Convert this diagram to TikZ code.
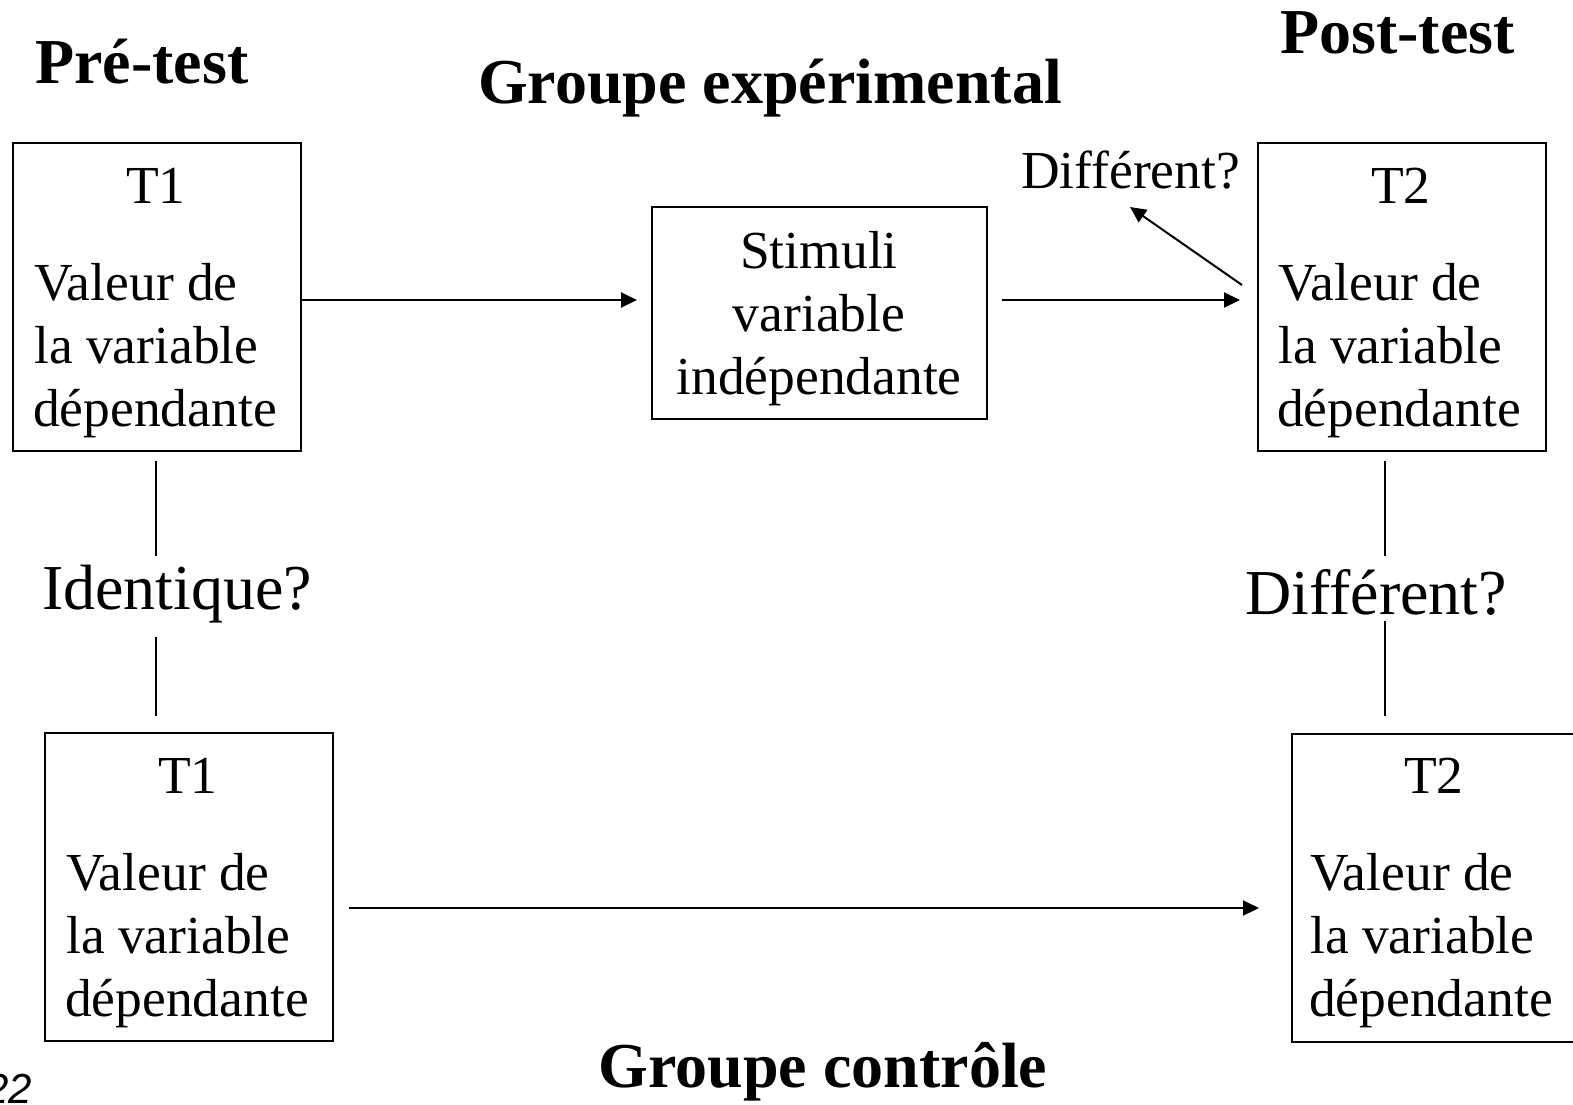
\documentclass[tikz,border=0pt]{standalone}
\usepackage{fontspec}
\setmainfont{Liberation Serif}
\newfontfamily\pagefont{Liberation Sans}
\usetikzlibrary{arrows.meta}
\begin{document}
\begin{tikzpicture}[x=1pt,y=-1pt,
  box/.style={draw,line width=2pt,minimum width=288pt,minimum height=308pt,inner sep=0pt,anchor=north west},
  stimbox/.style={draw,line width=2pt,minimum width=335pt,minimum height=212pt,inner sep=0pt,anchor=north west},
  body/.style={font=\fontsize{53.5}{63}\selectfont,inner sep=0pt},
  big/.style={font=\fontsize{64}{70}\selectfont,inner sep=0pt},
  ttl/.style={font=\fontsize{64}{70}\selectfont\bfseries,inner sep=0pt},
  arr/.style={line width=2pt,-{Triangle[length=16pt,width=15pt]}},
  ln/.style={line width=2.2pt}]
\useasboundingbox (0,0) rectangle (1573,1104);
\clip (0,0) rectangle (1573,1104);
% boxes
\node[box] (A) at (12,142) {};
\node[stimbox] (B) at (651,206) {};
\node[box] (C) at (1257,142) {};
\node[box] (D) at (44,732) {};
\node[box] (E) at (1291,733) {};
% box texts
\node[body,anchor=base] (A1) at (156,203) {T1};
\node[body,anchor=base west] (A2) at (34,300) {Valeur de};
\node[body,anchor=base west] (A3) at (34,363) {la variable};
\node[body,anchor=base west] (A4) at (33,426) {dépendante};
\node[body,anchor=base] (B1) at (819,268) {Stimuli};
\node[body,anchor=base] (B2) at (819,331) {variable};
\node[body,anchor=base] (B3) at (819,394) {indépendante};
\node[body,anchor=base] (C1) at (1401,203) {T2};
\node[body,anchor=base west] (C2) at (1278,300) {Valeur de};
\node[body,anchor=base west] (C3) at (1278,363) {la variable};
\node[body,anchor=base west] (C4) at (1277,426) {dépendante};
\node[body,anchor=base] (D1) at (188,793) {T1};
\node[body,anchor=base west] (D2) at (66,890) {Valeur de};
\node[body,anchor=base west] (D3) at (66,953) {la variable};
\node[body,anchor=base west] (D4) at (65,1016) {dépendante};
\node[body,anchor=base] (E1) at (1434,793) {T2};
\node[body,anchor=base west] (E2) at (1310,890) {Valeur de};
\node[body,anchor=base west] (E3) at (1310,953) {la variable};
\node[body,anchor=base west] (E4) at (1309,1016) {dépendante};
% titles
\node[ttl,anchor=base west] (pre) at (35,83) {Pré-test};
\node[ttl,anchor=base] (gexp) at (770,103) {Groupe expérimental};
\node[ttl,anchor=base west] (post) at (1280,53) {Post-test};
\node[ttl,anchor=base] (gctl) at (823,1087) {Groupe contrôle};
% labels
\node[body,anchor=base west] (diff1) at (1021,188) {Différent?};
\node[big,anchor=base west] (ident) at (42,609) {Identique?};
\node[big,anchor=base west] (diff2) at (1245,614) {Différent?};
\node[anchor=base east,inner sep=0pt,font=\fontsize{42}{48}\selectfont\pagefont\itshape] (pg) at (32,1103) {22};
% connector coordinates
\coordinate (ab) at (637,300);
\coordinate (bc0) at (1002,300);
\coordinate (bc) at (1240,300);
\coordinate (dg0) at (1242,285);
\coordinate (dg) at (1130,207);
\coordinate (de) at (1259,908);
\coordinate (de0) at (349,908);
% arrows
\draw[arr] (A.east |- ab) -- (ab);
\draw[arr] (bc0) -- (bc);
\draw[arr] (dg0) -- (dg);
\draw[arr] (de0) -- (de);
% vertical lines
\draw[ln] (156,461) -- (156,556);
\draw[ln] (156,637) -- (156,716);
\draw[ln] (1385,461) -- (1385,556);
\draw[ln] (1385,621) -- (1385,716);
\end{tikzpicture}
\end{document}
